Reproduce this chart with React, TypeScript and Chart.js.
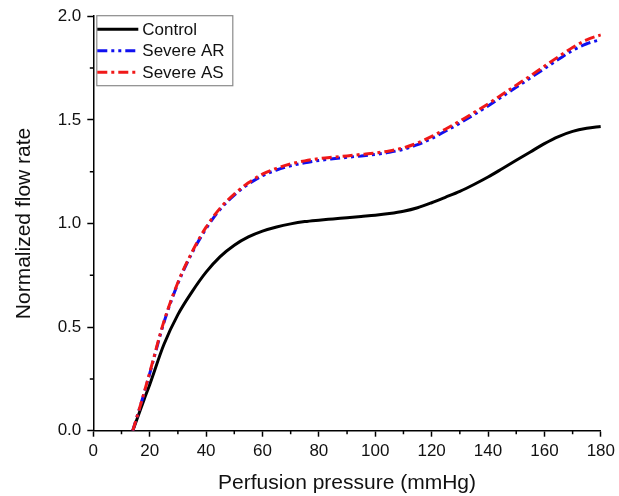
import React, { useEffect, useRef } from "react";
import { Chart, registerables } from "chart.js";

Chart.register(...registerables);

const pressure = [14, 16, 18, 20, 25, 30, 35, 40, 45, 50, 55, 60, 65, 70, 75, 80, 85, 90, 95, 100, 105, 110, 115, 120, 125, 130, 135, 140, 145, 150, 155, 160, 165, 170, 175, 180];

const control = [0, 0.075, 0.15, 0.222, 0.415, 0.56, 0.67, 0.765, 0.84, 0.895, 0.935, 0.963, 0.983, 0.998, 1.009, 1.016, 1.022, 1.028, 1.034, 1.04, 1.048, 1.059, 1.076, 1.1, 1.127, 1.155, 1.188, 1.224, 1.264, 1.305, 1.345, 1.385, 1.419, 1.444, 1.459, 1.468];

const severeAR = [0, 0.09, 0.18, 0.275, 0.52, 0.71, 0.857, 0.975, 1.068, 1.137, 1.19, 1.23, 1.258, 1.278, 1.293, 1.304, 1.312, 1.319, 1.326, 1.333, 1.343, 1.358, 1.38, 1.41, 1.446, 1.484, 1.525, 1.567, 1.612, 1.657, 1.702, 1.747, 1.792, 1.835, 1.867, 1.887];

const severeAS = [0, 0.09, 0.183, 0.28, 0.525, 0.715, 0.862, 0.982, 1.074, 1.142, 1.196, 1.238, 1.266, 1.287, 1.302, 1.313, 1.32, 1.326, 1.333, 1.34, 1.35, 1.365, 1.388, 1.42, 1.456, 1.494, 1.535, 1.577, 1.622, 1.667, 1.712, 1.759, 1.805, 1.849, 1.886, 1.91];

const seriesLabels = ["Control", "Severe AR", "Severe AS"];
const xTitle = "Perfusion pressure (mmHg)";
const yTitle = "Normalized flow rate";
const xMinorTicks = [10, 30, 50, 70, 90, 110, 130, 150, 170];
const yMinorTicks = [0.25, 0.75, 1.25, 1.75];

const FONT = "'Liberation Sans', Arial, sans-serif";

const toPoints = (ys: number[]) => pressure.map((x, i) => ({ x, y: ys[i] }));

const minorTicksPlugin = {
  id: "minorTicks",
  afterDraw(chart: any) {
    const { ctx } = chart;
    const xs = chart.scales.x;
    const ys = chart.scales.y;
    ctx.save();
    ctx.strokeStyle = "#000";
    ctx.lineWidth = 1.5;
    ctx.beginPath();
    xMinorTicks.forEach((v) => {
      const px = xs.getPixelForValue(v);
      ctx.moveTo(px, xs.top);
      ctx.lineTo(px, xs.top + 3.5);
    });
    yMinorTicks.forEach((v) => {
      const py = ys.getPixelForValue(v);
      ctx.moveTo(ys.right, py);
      ctx.lineTo(ys.right - 3.5, py);
    });
    ctx.stroke();
    ctx.restore();
  },
};

const boxLegendPlugin = {
  id: "boxLegend",
  afterDraw(chart: any) {
    const { ctx, chartArea } = chart;
    const left = chartArea.left + 3;
    const top = chartArea.top - 1;
    const w = 136;
    const h = 70;
    ctx.save();
    ctx.fillStyle = "#fff";
    ctx.fillRect(left, top, w, h);
    ctx.strokeStyle = "#8a8a8a";
    ctx.lineWidth = 1.2;
    ctx.strokeRect(left + 0.5, top + 0.5, w, h);
    ctx.font = `17px ${FONT}`;
    ctx.textBaseline = "middle";
    ctx.textAlign = "left";
    chart.data.datasets.forEach((ds: any, i: number) => {
      const cy = top + 14 + i * 21.5;
      ctx.strokeStyle = ds.borderColor;
      ctx.lineWidth = ds.borderWidth;
      ctx.setLineDash(ds.borderDash || []);
      ctx.beginPath();
      ctx.moveTo(left + 1, cy);
      ctx.lineTo(left + 42, cy);
      ctx.stroke();
      ctx.setLineDash([]);
      ctx.fillStyle = "#111";
      ctx.fillText(ds.label, left + 46, cy + 1);
    });
    ctx.restore();
  },
};

export default function App() {
  const ref = useRef<HTMLCanvasElement | null>(null);

  useEffect(() => {
    if (!ref.current) return;
    Chart.defaults.font.family = FONT;
    const chart = new Chart(ref.current, {
      type: "line",
      data: {
        datasets: [
          {
            label: seriesLabels[0],
            data: toPoints(control),
            borderColor: "#000000",
            borderWidth: 3,
            pointRadius: 0,
            cubicInterpolationMode: "monotone",
            order: 2,
          },
          {
            label: seriesLabels[1],
            data: toPoints(severeAR),
            borderColor: "#1010f0",
            borderWidth: 3,
            borderDash: [10, 4, 3, 4, 3, 4],
            pointRadius: 0,
            cubicInterpolationMode: "monotone",
            order: 1,
          },
          {
            label: seriesLabels[2],
            data: toPoints(severeAS),
            borderColor: "#f01818",
            borderWidth: 3,
            borderDash: [10, 4, 3, 4],
            pointRadius: 0,
            cubicInterpolationMode: "monotone",
            order: 0,
          },
        ],
      },
      options: {
        responsive: false,
        animation: false,
        devicePixelRatio: 1,
        layout: { padding: { left: 0, right: 14, top: 15, bottom: 0 } },
        plugins: {
          legend: { display: false },
          tooltip: { enabled: false },
        },
        scales: {
          x: {
            type: "linear",
            min: 0,
            max: 180,
            afterFit: (s: any) => {
              s.height = 65.3;
            },
            ticks: {
              stepSize: 20,
              color: "#111",
              font: { size: 17 },
              padding: 4,
              maxRotation: 0,
            },
            grid: {
              drawOnChartArea: false,
              drawTicks: true,
              tickLength: 6,
              tickColor: "#000",
              tickWidth: 1.5,
            },
            border: { color: "#000", width: 1.5 },
            title: {
              display: true,
              text: xTitle,
              color: "#111",
              font: { size: 21 },
              padding: { top: 0, bottom: 0 },
            },
          },
          y: {
            min: 0,
            max: 2,
            afterFit: (s: any) => {
              s.width = 93.3;
            },
            ticks: {
              stepSize: 0.5,
              color: "#111",
              font: { size: 17 },
              padding: 6,
              callback: (v: any) => Number(v).toFixed(1),
            },
            grid: {
              drawOnChartArea: false,
              drawTicks: true,
              tickLength: 6,
              tickColor: "#000",
              tickWidth: 1.5,
            },
            border: { color: "#000", width: 1.5 },
            title: {
              display: true,
              text: yTitle,
              color: "#111",
              font: { size: 21 },
              padding: { top: 12, bottom: 0 },
            },
          },
        },
      },
      plugins: [minorTicksPlugin, boxLegendPlugin],
    } as any);
    return () => chart.destroy();
  }, []);

  return (
    <div style={{ position: "absolute", left: 0, top: 0, width: 619, height: 496, background: "#fff" }}>
      <canvas ref={ref} width={619} height={496} />
    </div>
  );
}
